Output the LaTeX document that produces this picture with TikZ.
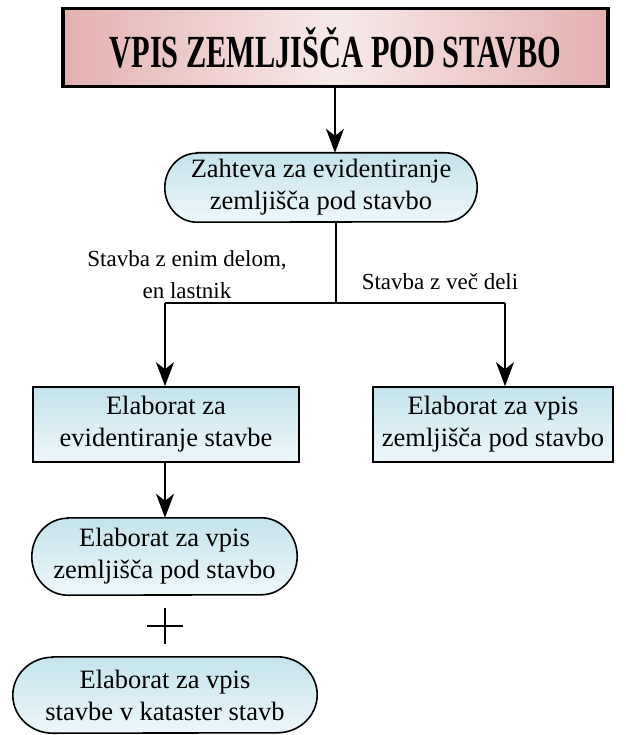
\documentclass[tikz,border=0pt]{standalone}
\usepackage{fontspec}
\setmainfont{Liberation Serif}
\usetikzlibrary{arrows.meta,backgrounds}

\definecolor{boxtop}{HTML}{C4E3EC}
\definecolor{boxbot}{HTML}{EEF7FA}
\definecolor{pinkedge}{HTML}{E4B0B0}
\definecolor{pinkmid}{HTML}{F8EAEA}

\tikzset{
  every picture/.style={x=1pt,y=-1pt},
  flow/.style={line width=1.6pt,-{Stealth[length=24pt,width=18pt,inset=7pt]}},
  plain/.style={line width=1.6pt},
  boxtext/.style={font=\fontsize{26.5}{32}\selectfont,align=center,inner sep=0pt},
  labeltext/.style={font=\fontsize{23}{32}\selectfont,align=center,inner sep=0pt},
  stepbox/.style={draw,line width=1.6pt,top color=boxtop,bottom color=boxbot,
    rectangle,boxtext,minimum width=#1,minimum height=75pt},
  ovalnode/.style 2 args={rectangle,boxtext,minimum width=#1,minimum height=#2},
  titlebox/.style={draw,line width=3.5pt,left color=pinkedge,right color=pinkedge,
    middle color=pinkmid,rectangle,minimum width=545pt,minimum height=78pt,inner sep=0pt}
}

% oval outline behind a node: straight top and bottom, elliptic ends
\newcommand{\ovalbehind}[2]{%
  \begin{scope}[on background layer]
    \path[draw,line width=1.6pt,top color=boxtop,bottom color=boxbot]
      ([xshift=#2]#1.north west) -- ([xshift=-#2]#1.north east)
      arc[start angle=90,end angle=-90,x radius=#2,
          y radius={0.5*(\pgfkeysvalueof{/pgf/minimum height})}]
      -- ([xshift=#2]#1.south west)
      arc[start angle=270,end angle=90,x radius=#2,
          y radius={0.5*(\pgfkeysvalueof{/pgf/minimum height})}]
      -- cycle;
  \end{scope}}

\begin{document}
\begin{tikzpicture}
  \useasboundingbox (0,0) rectangle (625,735);

  % title
  \node[titlebox] (title) at (335.5,47.5)
    {\bfseries\fontsize{46}{50}\selectfont\scalebox{0.66}[1]{VPIS ZEMLJIŠČA POD STAVBO}};

  % request
  \node[ovalnode={312pt}{69pt}] (req) at (321,187.5)
    {Zahteva za evidentiranje\\zemljišča pod stavbo};
  \begin{scope}[minimum height=69pt]\ovalbehind{req}{32pt}\end{scope}

  % branch elaborates
  \node[stepbox=266pt] (left) at (166,424.5) {Elaborat za\\evidentiranje stavbe};
  \node[stepbox=240pt] (right) at (493,424.5) {Elaborat za vpis\\zemljišča pod stavbo};

  % lower ovals
  \node[ovalnode={265pt}{77pt}] (el1) at (164.5,556.5)
    {Elaborat za vpis\\zemljišča pod stavbo};
  \begin{scope}[minimum height=77pt]\ovalbehind{el1}{36pt}\end{scope}

  \node[ovalnode={304pt}{76pt}] (el2) at (165,695)
    {Elaborat za vpis\\stavbe v kataster stavb};
  \begin{scope}[minimum height=76pt]\ovalbehind{el2}{40pt}\end{scope}

  % branch labels
  \node[labeltext] (lab1) at (187,275) {Stavba z enim delom,\\en lastnik};
  \node[labeltext] (lab2) at (440,282) {Stavba z več deli};

  % connectors
  \coordinate (split) at (336,303);
  \coordinate (splitL) at (165,303);
  \coordinate (splitR) at (505,303);
  \draw[flow] (title.south -| 335,0) -- (req.north -| 335,0);
  \draw[plain] (req.south -| split) -- (split);
  \draw[plain] (splitL) -- (splitR);
  \draw[flow] (splitL) -- (left.north -| splitL);
  \draw[flow] (splitR) -- (right.north -| splitR);
  \draw[flow] (left.south -| 165,0) -- (el1.north -| 165,0);

  % plus sign between the two elaborates
  \coordinate (plus) at (165,626);
  \draw[line width=1.2pt] ([xshift=-18pt]plus) -- ([xshift=18pt]plus)
    ([yshift=-18pt]plus) -- ([yshift=18pt]plus);
\end{tikzpicture}
\end{document}
